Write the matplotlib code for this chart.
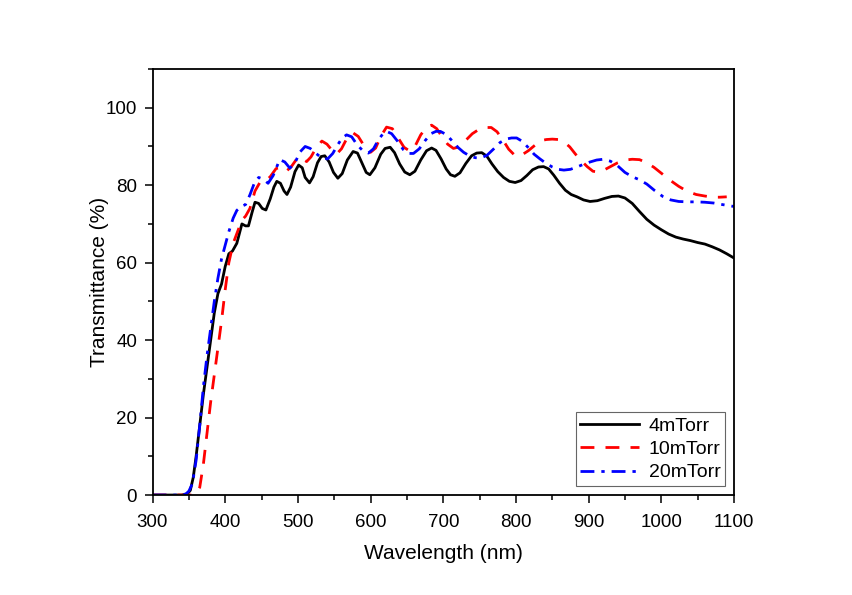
import matplotlib
matplotlib.use("Agg")
import matplotlib.pyplot as plt
from matplotlib.ticker import MultipleLocator

plt.rcParams["font.family"] = ["Liberation Sans", "DejaVu Sans"]

# 4 mTorr (black, solid)
wl_4 = [300, 320, 340, 348, 352, 356, 360, 365, 370, 375, 380, 385, 390, 395, 400,
        405, 410, 416, 423, 428, 432, 437, 441, 446, 451, 456, 462, 467, 471, 476,
        481, 485, 490, 496, 501, 506, 510, 516, 521, 527, 532, 537, 543, 549, 555,
        561, 568, 576, 582, 588, 594, 599, 606, 614, 620, 627, 633, 640, 647, 654,
        661, 669, 677, 684, 690, 697, 704, 710, 716, 723, 731, 739, 746, 753, 760,
        767, 775, 783, 791, 799, 807, 815, 823, 831, 838, 845, 852, 860, 868, 876,
        884, 893, 902, 912, 922, 932, 941, 950, 960, 970, 980, 990, 1000, 1010,
        1020, 1030, 1040, 1050, 1060, 1070, 1080, 1090, 1100]
T_4 = [0, 0, 0, 0.3, 1.2, 4.5, 10, 18, 26, 33, 40, 47, 52, 54.5, 59,
       62.3, 63, 65, 70, 69.5, 69.5, 73, 75.6, 75.3, 74, 73.6, 76.5, 79.5, 81, 80.5,
       78.5, 77.6, 79.5, 83.5, 85.2, 84.5, 82, 80.6, 82.2, 85.8, 87.4, 87.6, 86, 83.3, 81.8,
       83, 86.5, 88.7, 88.3, 85.8, 83.3, 82.7, 84.5, 88, 89.5, 89.8, 88.4, 85.5, 83.4, 82.7,
       83.6, 86.5, 88.9, 89.6, 89, 86.8, 84.2, 82.7, 82.3, 83.2, 85.6, 87.6, 88.3, 88.4, 87.5,
       85.5, 83.5, 82, 81, 80.7, 81.2, 82.5, 84, 84.7, 84.8, 84.2, 82.6, 80.5, 78.7, 77.6,
       77, 76.2, 75.8, 76, 76.6, 77.1, 77.2, 76.7, 75.3, 73.2, 71.2, 69.7, 68.5, 67.4,
       66.6, 66.1, 65.7, 65.2, 64.8, 64.1, 63.3, 62.3, 61.2]

# 10 mTorr (red, dashed)
wl_10 = [300, 320, 340, 355, 360, 365, 370, 375, 380, 385, 390, 395, 400, 405, 411,
         417, 423, 428, 434, 441, 448, 455, 462, 470, 477, 484, 491, 500, 506, 512,
         518, 525, 533, 540, 547, 553, 560, 568, 576, 583, 591, 600, 607, 614, 622,
         630, 638, 646, 654, 661, 669, 677, 684, 691, 698, 706, 714, 722, 731, 740,
         749, 758, 766, 774, 782, 790, 799, 808, 817, 826, 834, 842, 850, 858, 866,
         874, 882, 890, 898, 906, 914, 922, 930, 940, 950, 960, 970, 980, 990, 1000,
         1012, 1024, 1036, 1048, 1060, 1071, 1080, 1090]
T_10 = [0, 0, 0, 0, 0.4, 2, 8, 16, 24, 31, 38, 45, 53, 60, 65,
        68, 71, 72, 74, 78.5, 80.8, 81, 82.2, 84.3, 84.6, 83.6, 84.8, 87.2, 86.8, 86.1,
        87.3, 89.6, 91.4, 90.6, 89, 88, 89.4, 92.3, 93.5, 92.6, 90.2, 88.5, 89.6, 92.6, 95,
        94.6, 92.2, 89.8, 88.8, 90, 93, 95, 95.5, 94.6, 92.6, 90.6, 89.5, 89.9, 91.6, 93.3,
        94.4, 94.9, 94.9, 93.8, 91.7, 89.3, 87.6, 87.8, 88.9, 90.3, 91.5, 91.8, 91.9, 91.8, 91.2,
        89.9, 88, 86.3, 84.8, 83.6, 83.4, 84, 84.8, 85.8, 86.5, 86.7, 86.6, 85.8, 84.6, 83.1,
        81.3, 79.7, 78.4, 77.6, 77.2, 76.9, 76.9, 77]

# 20 mTorr (blue, dash-dot)
wl_20 = [300, 320, 340, 346, 350, 355, 360, 365, 370, 375, 380, 385, 390, 395, 400,
         405, 411, 416, 422, 428, 434, 440, 446, 452, 459, 466, 475, 482, 489, 496,
         503, 510, 517, 525, 533, 541, 548, 555, 561, 567, 574, 582, 590, 597, 604,
         611, 618, 622, 629, 637, 645, 652, 659, 667, 675, 683, 690, 696, 704, 712,
         720, 728, 736, 744, 751, 760, 769, 778, 786, 794, 801, 809, 817, 825, 833,
         841, 850, 858, 866, 875, 884, 893, 902, 911, 920, 930, 940, 950, 960, 970,
         980, 991, 1002, 1013, 1024, 1036, 1048, 1060, 1072, 1084, 1094, 1100]
T_20 = [0, 0, 0, 0.3, 1, 3, 9, 18, 28, 36, 43, 50, 56, 61, 64.5,
        68, 71.5, 73.5, 74.5, 75, 77.5, 80.5, 82, 81.6, 80.5, 82.5, 86.6, 86, 84.4, 85.8,
        88.6, 90, 89.5, 88.2, 87, 86.8, 88.2, 90.5, 92.2, 93, 92.5, 90.3, 88.8, 88.3, 89.4,
        91.8, 93.5, 93.9, 93.3, 91.4, 89.2, 88.2, 88.2, 89.4, 91.5, 93.3, 93.9, 93.9, 93.1, 91.5,
        89.8, 88.5, 87.6, 87.1, 87, 87.7, 89.3, 91, 91.9, 92.2, 92.2, 91.3, 89.7, 88, 86.8,
        85.7, 84.7, 84.1, 83.9, 84.1, 84.7, 85.4, 86, 86.5, 86.7, 86.2, 85, 83.3, 82.2, 81.4,
        80.3, 78.6, 77.1, 76.2, 75.8, 75.7, 75.7, 75.6, 75.4, 75, 74.7, 74.5]

labels = ["4mTorr", "10mTorr", "20mTorr"]

fig = plt.figure(figsize=(8.52, 5.95), dpi=100)
ax = fig.add_axes([0.179, 0.168, 0.6825, 0.716])

ax.plot(wl_4, T_4, color="black", lw=2.0, ls="-", label=labels[0])
ax.plot(wl_10, T_10, color="#ff0000", lw=2.0, ls=(0, (5, 4)), label=labels[1])
ax.plot(wl_20, T_20, color="#0000ff", lw=2.0, ls=(0, (5, 2.5, 1.2, 2.5)), label=labels[2])

ax.set_xlim(300, 1100)
ax.set_ylim(0, 110)
ax.xaxis.set_major_locator(MultipleLocator(100))
ax.xaxis.set_minor_locator(MultipleLocator(50))
ax.yaxis.set_major_locator(MultipleLocator(20))
ax.yaxis.set_minor_locator(MultipleLocator(10))
ax.tick_params(which="both", direction="out", top=False, right=False, width=1.1,
               labelsize=13.5)
ax.tick_params(which="major", length=6, pad=5)
ax.tick_params(axis="x", which="major", pad=8)
ax.tick_params(which="minor", length=3.5)
for s in ax.spines.values():
    s.set_linewidth(1.3)

ax.set_xlabel("Wavelength (nm)", fontsize=15, labelpad=9)
ax.set_ylabel("Transmittance (%)", fontsize=15, labelpad=-2)

leg = ax.legend(loc="lower right", fontsize=14, handlelength=3.0, frameon=True,
                fancybox=False, borderaxespad=0.45, handletextpad=0.5,
                labelspacing=0.3, borderpad=0.25)
leg.get_frame().set_edgecolor("#404040")
leg.get_frame().set_linewidth(0.8)

fig.savefig("out.png", dpi=100)
